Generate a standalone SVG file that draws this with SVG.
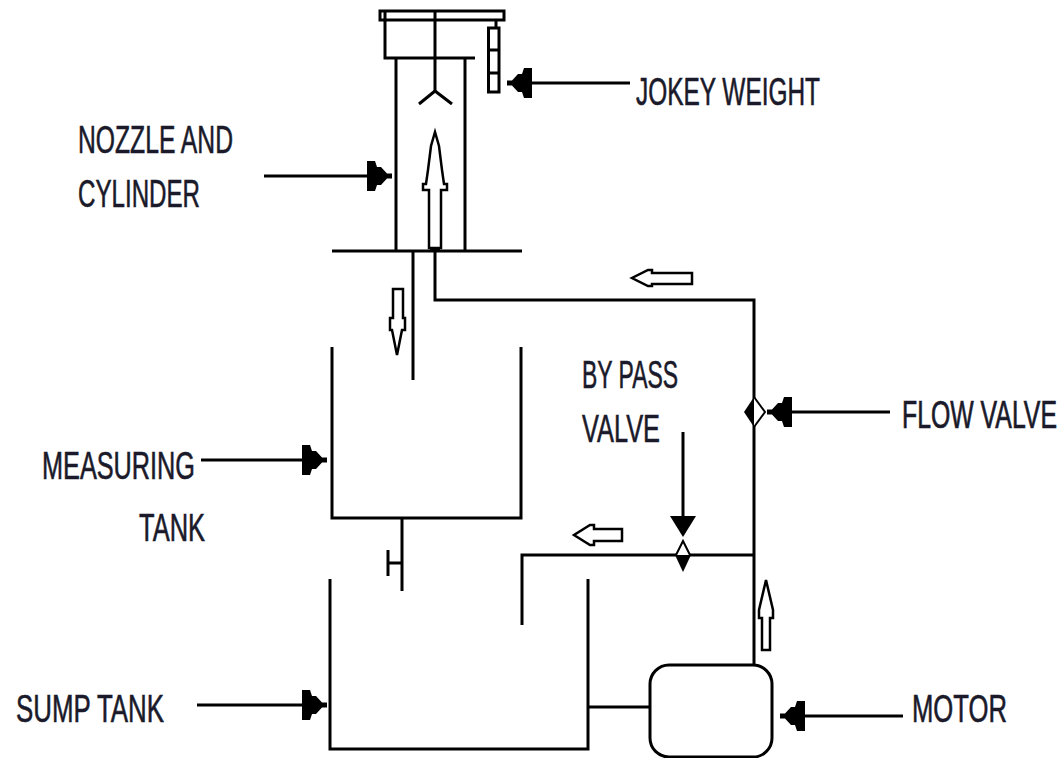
<svg xmlns="http://www.w3.org/2000/svg" width="1064" height="758" viewBox="0 0 1064 758">
<style>
.l{fill:none;stroke:#000;stroke-width:3}
.t{stroke:#000;stroke-width:3;fill:none}
.h{fill:#000;stroke:none}
.o{fill:#fff;stroke:#000;stroke-width:2.500}
text{font-family:"Liberation Sans",Arial,sans-serif;font-size:38px;fill:#1a1a2a;stroke:#1a1a2a;stroke-width:.6}
</style>
<defs>
<path id="head" class="h" d="M0 -2.500V2.500H-5L-11 9H-15L-17 15H-25V-15H-17L-15 -9H-11L-5 -2.500Z"/>
</defs>
<rect width="1064" height="758" fill="#fff"/>
<g id="connectors">
<path class="l" d="M435 251V300H754V664"/>
<path class="l" d="M413 251V380"/>
<path class="l" d="M522 625V555H754"/>
<path class="l" d="M402 519V591M388 563H402M388 550V576"/>
<path class="l" d="M589 707H650"/>
<path class="l" d="M630 83H528"/><use href="#head" transform="translate(507 83) scale(-1 1)"/>
<path class="l" d="M264 176H370"/><use href="#head" transform="translate(392 176)"/>
<path class="l" d="M201 460H305"/><use href="#head" transform="translate(327 460)"/>
<path class="l" d="M197 705H305"/><use href="#head" transform="translate(327 705)"/>
<path class="l" d="M890 412H790"/><use href="#head" transform="translate(767 412) scale(-1 1)"/>
<path class="l" d="M903 716H800"/><use href="#head" transform="translate(780 716) scale(-1 1)"/>
<path class="l" d="M683 432V520"/><path class="h" d="M670 516H696L683 537Z"/>
<path class="o" d="M429 248V190H423V184H426L428 170 431 146 435 132 439 146 442 170 444 184H447V190H441V248Z"/>
<path class="o" d="M393 289H403V318H405V330H402L397 355 392 330H390V318H393Z"/>
<path class="o" d="M692 273H652V270H648L632 278 648 286H652V284H692Z"/>
<path class="o" d="M622 529H594V525H590L574 535 590 545H594V541H622Z"/>
<path class="o" d="M762 650V618H759V610L766 580 773 610V618H770V650Z"/>
</g>
<g id="nozzle-cylinder">
<rect class="t" x="380" y="11" width="124" height="9"/>
<path class="t" d="M385 11V58H475M435 11V92M396 58V251M465 58V251"/>
<path class="t" d="M419 104L435 91 452 104"/>
<path class="t" d="M332 251H522"/>
<path class="h" d="M430 247H440V252H430Z"/>
</g>
<g id="jokey-weight">
<path class="t" d="M496 20V27"/>
<rect class="t" x="488.500" y="28" width="10.500" height="64"/>
<path class="t" d="M488 50H499M488 73H499"/>
</g>
<g id="measuring-tank"><path class="t" d="M332 347V518H521V347"/></g>
<g id="sump-tank"><path class="t" d="M330 579V749H588V579"/></g>
<g id="motor"><rect class="t" x="650" y="665" width="122" height="92" rx="19"/></g>
<g id="flow-valve"><path class="h" d="M744 412L754 397V427Z"/><path d="M754 397L765 412 754 427" fill="#fff" stroke="#000" stroke-width="2"/></g>
<g id="by-pass-valve"><path d="M676 555L683 541 690 555" fill="#fff" stroke="#000" stroke-width="2"/><path class="h" d="M675 555H691L683 572Z"/></g>
<g id="labels">
<text x="78" y="153" textLength="155" lengthAdjust="spacingAndGlyphs">NOZZLE AND</text>
<text x="78" y="207" textLength="122" lengthAdjust="spacingAndGlyphs">CYLINDER</text>
<text x="636" y="105" textLength="184" lengthAdjust="spacingAndGlyphs">JOKEY WEIGHT</text>
<text x="582" y="388" textLength="96" lengthAdjust="spacingAndGlyphs">BY PASS</text>
<text x="582" y="442" textLength="78" lengthAdjust="spacingAndGlyphs">VALVE</text>
<text transform="translate(902 428) scale(1 1.583)" style="font-size:24px;stroke-width:.45" textLength="155" lengthAdjust="spacingAndGlyphs">FLOW VALVE</text>
<text x="42" y="479" textLength="153" lengthAdjust="spacingAndGlyphs">MEASURING</text>
<text x="139" y="541" textLength="66" lengthAdjust="spacingAndGlyphs">TANK</text>
<text x="16" y="722" textLength="148" lengthAdjust="spacingAndGlyphs">SUMP TANK</text>
<text x="912" y="722" textLength="95" lengthAdjust="spacingAndGlyphs">MOTOR</text>
</g>
</svg>
